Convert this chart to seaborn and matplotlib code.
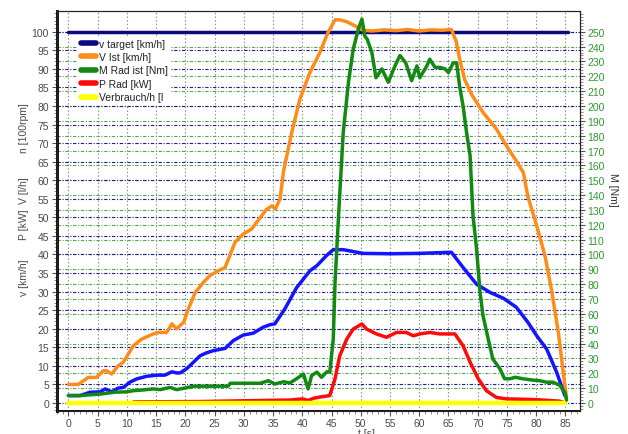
import numpy as np
import matplotlib
matplotlib.use("Agg")
import matplotlib.pyplot as plt
from matplotlib.ticker import MultipleLocator
from matplotlib.lines import Line2D
import seaborn as sns

# --- measured series -------------------------------------------------------
# set speed [km/h]
t_target = [0, 85.5]
v_target = [100, 100]

# actual vehicle speed [km/h]
t_ist = [0, 1.7, 3.4, 4.8, 6.0, 6.5, 7.4, 8.5, 9.4, 11.1, 12.5, 14.5, 15.4, 16.8,
         17.7, 18.5, 19.7, 20.5, 21.7, 23.1, 24.2, 25.6, 26.8, 27.6, 28.5, 29.9,
         31.3, 32.5, 33.9, 34.8, 35.4, 36.2, 36.8, 38.2, 39.6, 41.3, 43.0, 44.4,
         45.6, 46.4, 47.6, 49.0, 50.4, 52.0, 54.0, 56.0, 58.0, 60.0, 62.0, 64.0,
         65.5, 66.3, 67.0, 67.8, 69.0, 70.9, 73.2, 74.9, 76.4, 77.8, 78.6, 80.1,
         81.5, 82.6, 83.8, 84.9, 85.2]
v_ist = [5, 5, 6.9, 6.9, 8.7, 8.7, 7.8, 10, 11, 15.4, 17.2, 18.6, 19, 19,
         21.3, 20, 21.7, 25.3, 29.8, 32.5, 34.3, 35.6, 36.5, 39.7, 43.3, 45.5,
         46.8, 49.3, 52.2, 53.1, 52.3, 55, 62.5, 72.9, 81.9, 89, 94.4, 99.8,
         103.2, 103.2, 102.7, 101.6, 100.4, 100.2, 100.5, 100.3, 100.6, 100.2, 100.5, 100.4,
         100.6, 97.5, 92.0, 87.0, 83.0, 78.3, 73.8, 69.3, 65.7, 62.1, 55.5, 47.7,
         39.7, 30.7, 19, 4.7, 1.5]

# engine speed [100 rpm]
t_n = [0, 2, 3.7, 5.4, 6.3, 7.4, 8.5, 9.4, 10.5, 11.7, 13.4, 15.1, 16.5, 17.7,
       18.5, 19.1, 20.2, 21.4, 22.5, 23.6, 24.8, 26.8, 28.2, 29.9, 31.6, 33.3,
       34.5, 35.3, 37.0, 39.0, 40.2, 41.3, 42.5, 44.2, 45.3, 47.0, 48.7, 50.4,
       55, 60, 65.5, 67.5, 69.8, 72.1, 74.4, 76.6, 78.6, 80.1, 81.8, 83.5, 84.9]
n_mot = [2, 2, 2.9, 3, 3.8, 3, 4, 4.2, 5.6, 6.5, 7.2, 7.5, 7.5, 8.4,
         8.1, 8.1, 9.2, 11, 12.7, 13.5, 14.1, 14.7, 16.8, 18.3, 18.8, 20.4,
         21.1, 21.3, 25.3, 31, 33.4, 35.6, 37, 39.8, 41.3, 41.3, 40.8, 40.3,
         40.2, 40.3, 40.6, 36.5, 32, 29.8, 28.2, 25.8, 21.7, 18.1, 14.5, 8.3, 2]

# wheel torque [Nm]
t_m = [0, 2, 5.4, 8, 10, 11.1, 12.8, 14.5, 15.7, 17.4, 18.5, 20.2, 21.4, 27.3,
       27.7, 32.8, 34.2, 35.3, 36.8, 37.9, 39, 40.2, 41, 41.6, 42.5, 43.3, 44.2,
       44.7, 45.3, 45.6, 46.2, 47, 47.9, 48.7, 49.6, 50.2, 50.7, 51.1, 51.9, 52.6,
       53.6, 54.7, 55.8, 56.7, 57.7, 58.7, 59.6, 60.1, 61.3, 61.8, 62.7, 63.5,
       64.4, 65.0, 65.8, 66.4, 66.9, 67.5, 68.1, 68.7, 69.2, 69.8, 70.4, 70.9,
       71.8, 72.6, 73.8, 74.6, 75.5, 76.4, 77.8, 79.2, 80.6, 81.8, 82.9, 84, 84.9, 85.2]
m_rad = [5, 5, 6, 7.3, 7.5, 8.3, 8.8, 9.5, 9, 10.5, 9, 10.3, 11.3, 11.3,
         13.3, 13.3, 15, 12.8, 14.3, 13.5, 16.3, 19.5, 9.5, 18.5, 20.8, 17.3, 21,
         20.8, 43, 81, 126, 182, 216, 238, 252, 258.5, 247, 245, 236, 219,
         225, 216, 226.5, 234, 229, 217, 227, 219, 227, 231.5, 226, 226,
         225, 222.5, 229, 229, 213.5, 200, 182, 166.5, 126, 104, 74.5, 59,
         43, 29.5, 23, 16.3, 16.3, 17.3, 16.3, 15.5, 15, 14, 14, 12, 7.3, 2]

# wheel power [kW]
t_p = [0, 11, 11.2, 23, 30, 38, 40, 41, 42, 43, 44.7, 45.6, 46.4, 47.6, 48.7,
       50.2, 51, 52.7, 54.4, 56.1, 57.8, 59, 60.1, 61.8, 63.5, 65.3, 66.1, 67.5,
       68.7, 70.1, 71.5, 73.2, 74.9, 78, 80, 84, 85]
p_rad = [0, 0, 0.3, 0.4, 0.6, 0.8, 1.1, 0.7, 1.3, 1.6, 2.0, 6.5, 12.7, 17.2, 19.9,
         21.3, 19.9, 18.6, 17.7, 19, 19, 18.1, 18.6, 19, 18.6, 18.6, 18.6, 15.4,
         11, 6.5, 3.3, 1.5, 1.1, 1.0, 0.9, 0.5, 0]

# fuel consumption [l/h]
t_fuel = [0, 85]
fuel = [0, 0]

x_ticks = list(range(0, 90, 5))
left_ticks = list(range(0, 105, 5))
right_ticks = list(range(0, 260, 10))
NM_PER_UNIT = 2.5

legend_labels = ["v target [km/h]", "V Ist [km/h]", "M Rad ist [Nm]",
                 "P Rad [kW]", "Verbrauch/h [l"]

# --- style -------------------------------------------------------------------
sns.set_style("white")
plt.rcParams["font.family"] = ["Liberation Sans", "DejaVu Sans"]
plt.rcParams["lines.scale_dashes"] = False

C_NAVY = "#0a0a80"
C_ORANGE = "#ff8c1a"
C_GREEN = "#128a12"
C_RED = "#ff0a0a"
C_BLUE = "#1414ff"
C_YELLOW = "#ffff00"
C_TXT = "#4a4a4a"
C_GTXT = "#2e9a2e"
LW = 2.5

fig = plt.figure(figsize=(6.28, 4.35), dpi=100)
ax = fig.add_axes([0.0903, 0.0536, 0.8333, 0.9181])
ax2 = ax.twinx()

ylo, yhi = -2.07, 105.5
ax.set_xlim(-2.0, 87.5)
ax.set_ylim(ylo, yhi)
ax2.set_ylim(ylo * NM_PER_UNIT, yhi * NM_PER_UNIT)

# grid: vertical dotted, horizontal dash-dot for both scales
grid_dash = (0, (2.4, 1.2, 0.8, 1.2))
ax.set_xticks(x_ticks)
ax.xaxis.set_minor_locator(MultipleLocator(1))
ax.set_yticks(left_ticks)
ax.yaxis.set_minor_locator(MultipleLocator(1))
ax.xaxis.grid(True, color="#8a8a8a", linestyle=(0, (1.0, 1.6)), linewidth=0.8)
ax.yaxis.grid(True, color="#1e1e8c", linestyle=grid_dash, linewidth=0.8)
for m in right_ticks[1:]:
    ax.axhline(m / NM_PER_UNIT, color="#2f9a2f", linestyle=grid_dash,
               linewidth=0.8, alpha=0.85, zorder=0.5)
ax.set_axisbelow(True)

# curves on the left scale
sns.lineplot(x=t_target, y=v_target, ax=ax, color=C_NAVY, lw=LW, zorder=2)
sns.lineplot(x=t_ist, y=v_ist, ax=ax, color=C_ORANGE, lw=LW, zorder=3)
sns.lineplot(x=t_n, y=n_mot, ax=ax, color=C_BLUE, lw=LW, zorder=3)
sns.lineplot(x=t_p, y=p_rad, ax=ax, color=C_RED, lw=LW, zorder=3)
sns.lineplot(x=t_fuel, y=fuel, ax=ax, color=C_YELLOW, lw=3.2, zorder=4)

# torque on the right scale
sns.lineplot(x=t_m, y=m_rad, ax=ax2, color=C_GREEN, lw=LW, zorder=3)

ax2.set_yticks(right_ticks)
ax2.yaxis.set_minor_locator(MultipleLocator(2))
ax2.grid(False)

# ticks and spines
ax.tick_params(axis="both", which="major", direction="out", length=3.5,
               width=0.8, color="#555555", labelsize=7.5, labelcolor=C_TXT, pad=2)
ax.tick_params(axis="both", which="minor", direction="out", length=2,
               width=0.6, color="#777777")
ax.tick_params(axis="y", left=True, right=False)
ax.tick_params(axis="x", bottom=True, top=False)
ax.tick_params(axis="y", which="minor", left=True, right=False)
ax.tick_params(axis="x", which="minor", bottom=True, top=False)
ax2.tick_params(axis="y", which="major", direction="out", length=3.5, width=0.8,
                color="#555555", labelsize=7.5, labelcolor=C_GTXT, pad=2)
ax2.tick_params(axis="y", which="minor", direction="out", length=2, width=0.6,
                color="#777777")

for a in (ax, ax2):
    for s in a.spines.values():
        s.set_visible(True)
        s.set_color("#222222")
        s.set_linewidth(0.8)
ax.spines["left"].set_linewidth(2.0)
ax.spines["left"].set_color("#000000")
ax.spines["bottom"].set_linewidth(1.3)
ax.spines["bottom"].set_color("#000000")
ax.set_xlabel("")
ax.set_ylabel("")
ax2.set_ylabel("")

# axis titles
W, H = 628.0, 435.0
for label, yc in [("v [km/h]", 278), ("P [kW]", 225), ("V [l/h]", 191),
                  ("n [100rpm]", 128)]:
    fig.text(24 / W, 1 - yc / H, label, rotation=90, ha="center", va="center",
             fontsize=7.5, color=C_TXT)
fig.text(613 / W, 1 - 190 / H, "M [Nm]", rotation=270, ha="center",
         va="center", fontsize=7.5, color="#333333")
fig.text(367 / W, 1 - 429 / H, "t [s]", ha="center", va="top",
         fontsize=7.5, color=C_TXT)

# legend
handles = [Line2D([], [], color=c, lw=4) for c in
           (C_NAVY, C_ORANGE, C_GREEN, C_RED, C_YELLOW)]
leg = ax2.legend(handles, legend_labels, loc="upper left",
                 bbox_to_anchor=((78 - 56.7) / 523.3, (411.7 - 37) / 399.4),
                 frameon=True, facecolor="white", edgecolor="none",
                 framealpha=1.0, fancybox=False, borderaxespad=0,
                 borderpad=0.25, handlelength=1.5, handletextpad=0.25,
                 labelspacing=0.33, fontsize=7.5)
for txt in leg.get_texts():
    txt.set_color("#222222")

fig.savefig("out.png", dpi=100)
